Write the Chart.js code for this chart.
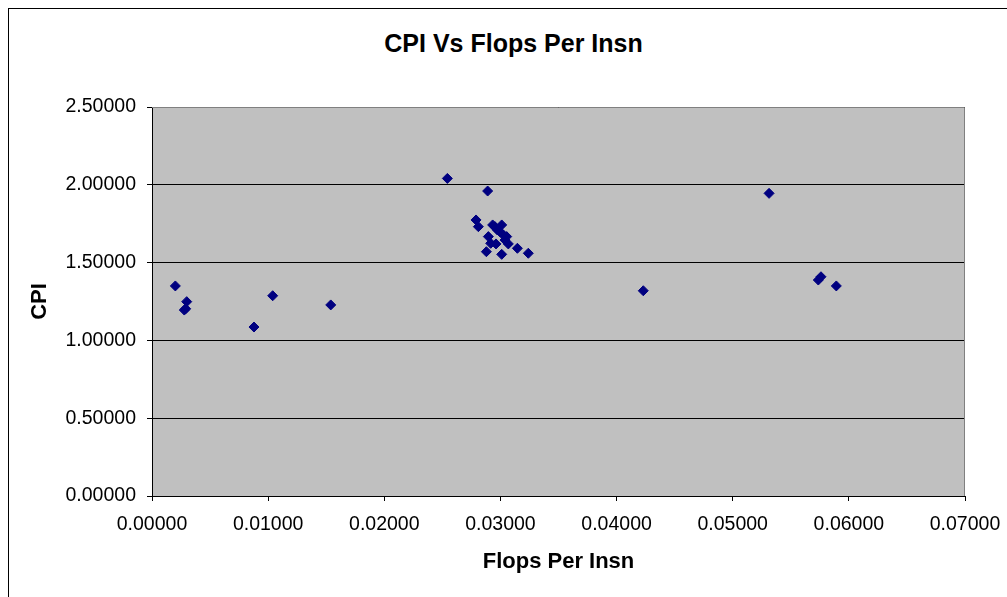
<!DOCTYPE html>
<html>
<head>
<meta charset="utf-8">
<script src="https://cdn.jsdelivr.net/npm/chart.js@4/dist/chart.umd.min.js"></script>
<style>
  html, body { margin: 0; padding: 0; background: #fff; overflow: hidden; }
  #wrap { position: relative; width: 1007px; height: 597px; }
  #frame { position: absolute; left: 8px; top: 8px; width: 1100px; height: 700px; border: 1px solid #000; box-sizing: border-box; }
  #title { position: absolute; left: 0; top: 31px; width: 1027px; text-align: center;
           font: bold 25px "Liberation Sans", Arial, sans-serif; line-height: 25px; color: #000; }
  canvas { position: absolute; left: 0; top: 0; }
</style>
</head>
<body>
<div id="wrap">
  <div id="frame"></div>
  <div id="title">CPI Vs Flops Per Insn</div>
  <canvas id="chart" width="1007" height="597"></canvas>
</div>
<script>
// values
const flopsPerInsn = [0.00201, 0.00299, 0.00290, 0.00278, 0.00878, 0.01039, 0.01539,
  0.02543, 0.02890, 0.02790, 0.02810, 0.02933, 0.03011, 0.02973, 0.03025, 0.03054,
  0.02896, 0.02916, 0.02962, 0.03068, 0.03146, 0.02879, 0.03011, 0.03240,
  0.02953, 0.02996, 0.03039,
  0.04230, 0.05313, 0.05760, 0.05737, 0.05892];
const cpi = [1.350, 1.249, 1.203, 1.195, 1.086, 1.287, 1.228,
  2.041, 1.960, 1.774, 1.731, 1.742, 1.742, 1.710, 1.677, 1.667,
  1.667, 1.624, 1.620, 1.620, 1.592, 1.570, 1.553, 1.560,
  1.731, 1.699, 1.645,
  1.319, 1.945, 1.409, 1.388, 1.350];
const xTicks = [0, 0.01, 0.02, 0.03, 0.04, 0.05, 0.06, 0.07];
const yTicks = [0, 0.5, 1.0, 1.5, 2.0, 2.5];

const FONT = '"Liberation Sans", Arial, sans-serif';

const plotBg = {
  id: 'plotBg',
  beforeDraw(chart) {
    const { ctx, chartArea: a } = chart;
    ctx.save();
    ctx.fillStyle = '#c0c0c0';
    ctx.fillRect(a.left, a.top, a.right - a.left, a.bottom - a.top);
    ctx.restore();
  },
  afterDraw(chart) {
    const { ctx, chartArea: a } = chart;
    ctx.save();
    ctx.strokeStyle = '#808080';
    ctx.lineWidth = 1;
    ctx.beginPath();
    ctx.moveTo(a.left, a.top + 0.5);
    ctx.lineTo(a.right - 0.5, a.top + 0.5);
    ctx.lineTo(a.right - 0.5, a.bottom);
    ctx.stroke();
    ctx.restore();
  }
};

new Chart(document.getElementById('chart').getContext('2d'), {
  type: 'scatter',
  data: {
    datasets: [{
      label: 'CPI',
      data: flopsPerInsn.map((x, i) => ({ x: x, y: cpi[i] })),
      pointStyle: 'rectRot',
      pointRadius: 5,
      pointHoverRadius: 5,
      backgroundColor: '#000080',
      borderColor: '#000080',
      borderWidth: 1
    }]
  },
  options: {
    responsive: false,
    animation: false,
    devicePixelRatio: 1,
    layout: { padding: { top: 107, right: 42, left: 0, bottom: 0 } },
    plugins: {
      legend: { display: false },
      tooltip: { enabled: false },
      title: { display: false }
    },
    scales: {
      x: {
        type: 'linear',
        min: 0,
        max: 0.07,
        afterFit(scale) {
          scale.height = 101;
          scale.paddingLeft = 0;
          scale.paddingRight = 0;
        },
        afterBuildTicks(scale) { scale.ticks = xTicks.map(v => ({ value: v })); },
        ticks: {
          color: '#000',
          padding: 12,
          maxRotation: 0,
          font: { family: FONT, size: 19.5 },
          callback: v => Number(v).toFixed(5)
        },
        grid: { drawOnChartArea: false, drawTicks: true, tickLength: 5, color: '#000' },
        border: { display: true, color: '#000' },
        title: {
          display: true,
          text: 'Flops Per Insn',
          color: '#000',
          font: { family: FONT, size: 22, weight: 'bold' },
          padding: { top: 0, bottom: 22 }
        }
      },
      y: {
        type: 'linear',
        min: 0,
        max: 2.5,
        afterFit(scale) { scale.width = 152; },
        afterBuildTicks(scale) { scale.ticks = yTicks.map(v => ({ value: v })); },
        ticks: {
          color: '#000',
          padding: 11,
          font: { family: FONT, size: 19.5 },
          callback: v => Number(v).toFixed(5)
        },
        grid: { color: '#000', drawTicks: true, tickLength: 5 },
        border: { display: true, color: '#000' },
        title: {
          display: true,
          text: 'CPI',
          color: '#000',
          font: { family: FONT, size: 22, weight: 'bold' },
          padding: { top: 27, bottom: 0 }
        }
      }
    }
  },
  plugins: [plotBg]
});
</script>
</body>
</html>
